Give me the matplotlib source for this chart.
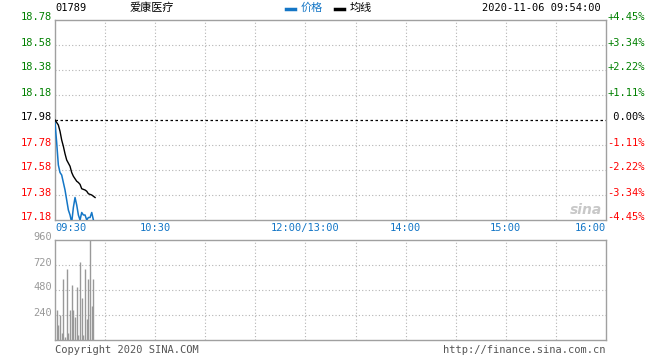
import numpy as np
import matplotlib.pyplot as plt
from matplotlib.transforms import offset_copy

# intraday data, minutes after 09:30
minutes = list(range(25))
price = [17.96, 17.80, 17.62, 17.56, 17.54, 17.48, 17.42, 17.34, 17.26, 17.22, 17.16,
         17.28, 17.36, 17.30, 17.22, 17.18, 17.24, 17.22, 17.22, 17.18, 17.20, 17.20,
         17.24, 17.18, 17.16]
avg = [17.98, 17.96, 17.94, 17.89, 17.82, 17.77, 17.71, 17.66, 17.635, 17.61, 17.56,
       17.53, 17.51, 17.49, 17.48, 17.465, 17.43, 17.425, 17.42, 17.41, 17.39, 17.385,
       17.38, 17.37, 17.36]
vol_minutes = list(range(1, 24))
volume = [288, 144, 240, 64, 582, 32, 678, 70, 288, 528, 288, 218, 512, 48, 752, 400,
          48, 678, 198, 582, 1100, 326, 582]

prev_close = 17.98
price_ticks = [18.78, 18.58, 18.38, 18.18, 17.98, 17.78, 17.58, 17.38, 17.18]
pct_labels = ['+4.45%', '+3.34%', '+2.22%', '+1.11%', ' 0.00%', '-1.11%', '-2.22%', '-3.34%', '-4.45%']
vol_ticks = [960, 720, 480, 240]
time_pos = [0, 60, 150, 210, 270, 330]
time_labels = ['09:30', '10:30', '12:00/13:00', '14:00', '15:00', '16:00']

mono = 'DejaVu Sans Mono'
cjk = ['Noto Sans CJK SC', 'DejaVu Sans']
blue = '#1476C6'
green = '#008000'
red = '#FF0000'
frame = '#A0A0A0'
gridc = '#B4B4B4'

fig = plt.figure(figsize=(6.6, 3.6), dpi=100)
ax = fig.add_axes([55/660, 1-220/360, 551/660, 200/360])
axv = fig.add_axes([55/660, 1-340/360, 551/660, 100/360])

for a in (ax, axv):
    a.set_xlim(0, 330)
    for s in a.spines.values():
        s.set_color(frame)
        s.set_linewidth(1)
    a.set_xticks([])
    a.set_yticks([])
    for t in range(30, 330, 30):
        a.axvline(t, color=gridc, lw=0.8, ls=(0, (1, 2)), zorder=0)

# price panel
ax.set_ylim(17.18, 18.78)
for p in price_ticks[1:-1]:
    if p == prev_close:
        ax.axhline(p, color='black', lw=0.9, ls=(0, (2, 2)), zorder=1)
    else:
        ax.axhline(p, color=gridc, lw=0.8, ls=(0, (1, 2)), zorder=0)
ax.plot(minutes, price, color=blue, lw=1.1, zorder=3)
ax.plot(minutes, avg, color='black', lw=1.0, zorder=4)

up = offset_copy(ax.transData, fig=fig, x=0, y=2.5, units='dots')
for p, lab in zip(price_ticks, pct_labels):
    c = green if p > prev_close else ('black' if p == prev_close else red)
    ax.text(-3/551*330, p, f'{p:.2f}', ha='right', va='center', fontsize=7.5,
            family=mono, color=c, transform=up)
    ax.text(330 + 1/551*330, p, lab, ha='left', va='center', fontsize=7.5,
            family=mono, color=c, transform=up)

# watermark
ax.text(318, 17.26, 'sina', ha='center', va='center', fontsize=10, color='#C8C8C8',
        fontweight='bold', style='italic')

# volume panel
axv.set_ylim(0, 960)
for v in vol_ticks[1:]:
    axv.axhline(v, color=gridc, lw=0.8, ls=(0, (1, 2)), zorder=0)
axv.vlines(vol_minutes, 0, volume, color='#999999', lw=1.0, zorder=2)
upv = offset_copy(axv.transData, fig=fig, x=0, y=2.5, units='dots')
for v in vol_ticks:
    axv.text(-3/551*330, v, str(v), ha='right', va='center', fontsize=7.5,
             family=mono, color='#999999', transform=upv)

# time labels
for tp, tl in zip(time_pos, time_labels):
    ha = 'left' if tp == 0 else ('right' if tp == 330 else 'center')
    fig.text((55 + tp*551/330)/660, 1-228/360, tl, ha=ha, va='center',
             fontsize=7.5, family=mono, color=blue)

# header
fig.text(55/660, 1-8/360, '01789', ha='left', va='center', fontsize=7.5, family=mono)
fig.text(130/660, 1-8/360, '爱康医疗', ha='left', va='center', fontsize=8, family=cjk)
fig.add_artist(plt.Line2D([286/660, 295/660], [1-9/360, 1-9/360], color=blue, lw=2.5))
fig.text(301/660, 1-8/360, '价格', ha='left', va='center', fontsize=8, family=cjk, color=blue)
fig.add_artist(plt.Line2D([335/660, 344/660], [1-9/360, 1-9/360], color='black', lw=2.5))
fig.text(350/660, 1-8/360, '均线', ha='left', va='center', fontsize=8, family=cjk)
fig.text(601/660, 1-8/360, '2020-11-06 09:54:00', ha='right', va='center',
         fontsize=7.5, family=mono)

# footer
fig.text(55/660, 1-350/360, 'Copyright 2020 SINA.COM', ha='left', va='center',
         fontsize=7.5, family=mono, color='#555555')
fig.text(606/660, 1-350/360, 'http://finance.sina.com.cn', ha='right', va='center',
         fontsize=7.5, family=mono, color='#555555')

fig.savefig('out.png', dpi=100)
